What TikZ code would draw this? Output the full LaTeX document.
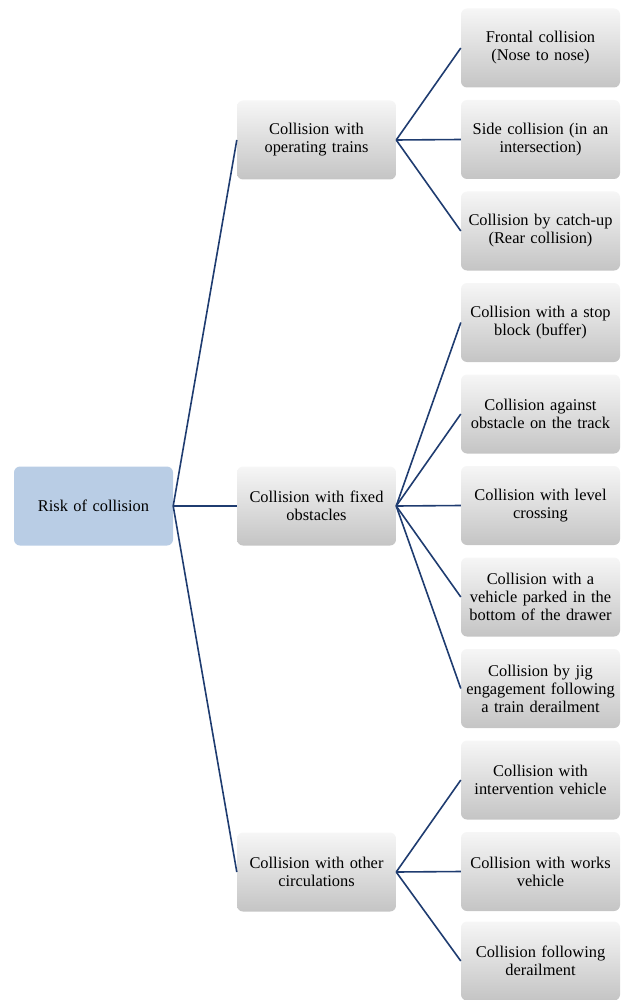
\documentclass[tikz,border=0pt]{standalone}
\usepackage{fontspec}
\setmainfont{Liberation Serif}
\definecolor{linkblue}{RGB}{31,60,112}
\definecolor{rootblue}{RGB}{185,205,229}
\tikzset{
  box/.style={rounded corners=6pt, minimum width=159pt, minimum height=79pt,
    text width=155pt, align=center, inner sep=0pt,
    font=\fontsize{16.4pt}{18pt}\selectfont},
  greybox/.style={box, top color=gray!7, bottom color=gray!46, draw=none},
  rootbox/.style={box, fill=rootblue},
  link/.style={draw=linkblue, line width=1.6pt}
}
\begin{document}
\begin{tikzpicture}[x=1pt,y=-1pt]
\useasboundingbox (0,0) rectangle (622,1000);

% root
\node[rootbox] (root) at (93.5,506) {Risk of collision};

% second level
\node[greybox] (m1) at (316.5,140) {Collision with\\operating trains};
\node[greybox] (m2) at (316.5,506) {Collision with fixed\\obstacles};
\node[greybox] (m3) at (316.5,872) {Collision with other\\circulations};

% leaves
\node[greybox] (l1)  at (540.5,48)    {Frontal collision\\(Nose to nose)};
\node[greybox] (l2)  at (540.5,139.5) {Side collision (in an\\intersection)};
\node[greybox] (l3)  at (540.5,231)   {Collision by catch-up\\(Rear collision)};
\node[greybox] (l4)  at (540.5,322.5) {Collision with a stop\\block (buffer)};
\node[greybox] (l5)  at (540.5,414)   {Collision against\\obstacle on the track};
\node[greybox] (l6)  at (540.5,505.5) {Collision with level\\crossing};
\node[greybox] (l7)  at (540.5,597)   {Collision with a\\vehicle parked in the\\bottom of the drawer};
\node[greybox] (l8)  at (540.5,688.5) {Collision by jig\\engagement following\\a train derailment};
\node[greybox] (l9)  at (540.5,780)   {Collision with\\intervention vehicle};
\node[greybox] (l10) at (540.5,871.5) {Collision with works\\vehicle};
\node[greybox] (l11) at (540.5,961)   {Collision following\\derailment};

% connectors
\foreach \m in {m1,m2,m3}
  \draw[link] (root.east) -- (\m.west);
\foreach \l in {l1,l2,l3}
  \draw[link] (m1.east) -- (\l.west);
\foreach \l in {l4,l5,l6,l7,l8}
  \draw[link] (m2.east) -- (\l.west);
\foreach \l in {l9,l10,l11}
  \draw[link] (m3.east) -- (\l.west);
\end{tikzpicture}
\end{document}
